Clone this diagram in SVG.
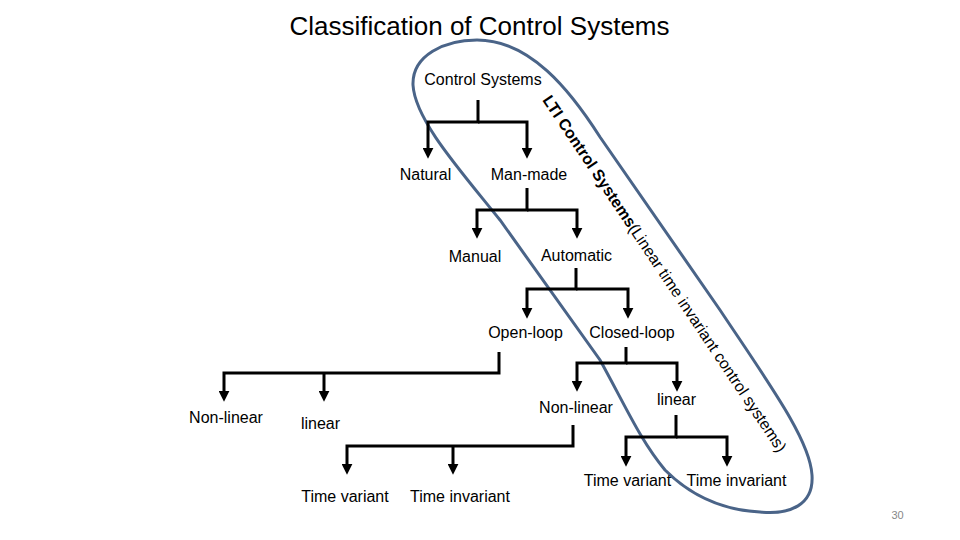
<svg xmlns="http://www.w3.org/2000/svg" width="960" height="540" viewBox="0 0 960 540">
<style>
.lbl{font-family:"Liberation Sans",Arial,sans-serif;font-size:16px;fill:#000;text-anchor:middle}
.ttl{font-family:"Liberation Sans",Arial,sans-serif;font-size:26px;fill:#000;text-anchor:middle}
.arc{font-family:"Liberation Sans",Arial,sans-serif;font-size:16px;fill:#000}
.c{fill:none;stroke:#000;stroke-width:3}
.loop{fill:none;stroke:#4a6488;stroke-width:3}
</style>
<defs>
<marker id="ah" viewBox="0 0 10 10" markerWidth="11" markerHeight="11" refX="2" refY="5" orient="auto" markerUnits="userSpaceOnUse">
<path d="M0,0 L10,5 L0,10 Z" fill="#000"/>
</marker>
<path id="ltiPath" d="M 542 100 L 784 462"/>
</defs>
<rect width="960" height="540" fill="#fff"/>
<text class="ttl" x="479.5" y="35">Classification of Control Systems</text>

<g id="loop">
<path class="loop" d="M 477 40 C 530 40 570 90 600 137 L 720 310 C 770 385 810 440 812 475 C 814 505 790 515 760 512 C 720 510 690 495 665 470 C 640 440 625 405 600 360 L 500 220 C 460 170 415 120 413 85 C 412 55 445 40 477 40 Z"/>
<text class="arc"><textPath href="#ltiPath"><tspan font-weight="bold">LTI  Control Systems</tspan>(Linear  time invariant control systems)</textPath></text>
</g>

<g id="connectors">
<path class="c" d="M478 100 V122 H428 V150" marker-end="url(#ah)"/>
<path class="c" d="M478 122 H527 V150" marker-end="url(#ah)"/>
<path class="c" d="M527 188 V210 H477 V230" marker-end="url(#ah)"/>
<path class="c" d="M527 210 H577 V230" marker-end="url(#ah)"/>
<path class="c" d="M576 268 V289 H527 V310" marker-end="url(#ah)"/>
<path class="c" d="M576 289 H628 V310" marker-end="url(#ah)"/>
<path class="c" d="M499 352 V373 H224 V393" marker-end="url(#ah)"/>
<path class="c" d="M324 373 V393" marker-end="url(#ah)"/>
<path class="c" d="M626 347 V363 H577 V383" marker-end="url(#ah)"/>
<path class="c" d="M626 363 H677 V383" marker-end="url(#ah)"/>
<path class="c" d="M573 425 V446 H347 V466" marker-end="url(#ah)"/>
<path class="c" d="M453 446 V466" marker-end="url(#ah)"/>
<path class="c" d="M676 415 V437 H626 V458" marker-end="url(#ah)"/>
<path class="c" d="M676 437 H727 V458" marker-end="url(#ah)"/>
</g>

<g id="n-control"><text class="lbl" x="483" y="85">Control Systems</text></g>
<g id="n-natural"><text class="lbl" x="425.5" y="180">Natural</text></g>
<g id="n-manmade"><text class="lbl" x="529" y="180">Man-made</text></g>
<g id="n-manual"><text class="lbl" x="475" y="262">Manual</text></g>
<g id="n-automatic"><text class="lbl" x="576.5" y="261">Automatic</text></g>
<g id="n-openloop"><text class="lbl" x="525.5" y="338">Open-loop</text></g>
<g id="n-closedloop"><text class="lbl" x="632" y="338">Closed-loop</text></g>
<g id="n-nonlinear-l"><text class="lbl" x="226" y="423">Non-linear</text></g>
<g id="n-linear-l"><text class="lbl" x="320.5" y="429">linear</text></g>
<g id="n-nonlinear-r"><text class="lbl" x="576" y="413">Non-linear</text></g>
<g id="n-linear-r"><text class="lbl" x="676.5" y="405">linear</text></g>
<g id="n-tv-l"><text class="lbl" x="345" y="502">Time variant</text></g>
<g id="n-ti-l"><text class="lbl" x="460" y="502">Time invariant</text></g>
<g id="n-tv-r"><text class="lbl" x="627.5" y="486">Time variant</text></g>
<g id="n-ti-r"><text class="lbl" x="736.5" y="486">Time invariant</text></g>
<text x="897.5" y="519" font-family="Liberation Sans,Arial,sans-serif" font-size="11" fill="#888" text-anchor="middle">30</text>
</svg>
